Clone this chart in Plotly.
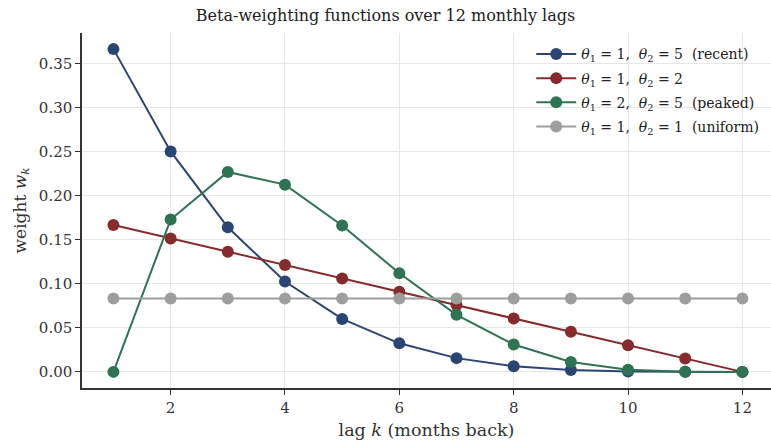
import plotly.graph_objects as go

lags = [1, 2, 3, 4, 5, 6, 7, 8, 9, 10, 11, 12]
w_recent = [0.3663, 0.2502, 0.1641, 0.1025, 0.0601, 0.0324, 0.0156, 0.0064, 0.0020, 0.0004, 0.00003, 0.0]
w_linear = [0.1667, 0.1515, 0.1364, 0.1212, 0.1061, 0.0909, 0.0758, 0.0606, 0.0455, 0.0303, 0.0152, 0.0]
w_peaked = [0.0, 0.1729, 0.2269, 0.2125, 0.1661, 0.1120, 0.0648, 0.0310, 0.0112, 0.0025, 0.0002, 0.0]
w_uniform = [0.0833] * 12

series_names = [
    "<i>θ</i><sub>1</sub> = 1,  <i>θ</i><sub>2</sub> = 5  (recent)",
    "<i>θ</i><sub>1</sub> = 1,  <i>θ</i><sub>2</sub> = 2",
    "<i>θ</i><sub>1</sub> = 2,  <i>θ</i><sub>2</sub> = 5  (peaked)",
    "<i>θ</i><sub>1</sub> = 1,  <i>θ</i><sub>2</sub> = 1  (uniform)",
]
colors = ["#2b4572", "#862b2b", "#2e7353", "#9e9e9e"]
y_ticks = [0.0, 0.05, 0.10, 0.15, 0.20, 0.25, 0.30, 0.35]
x_ticks = [2, 4, 6, 8, 10, 12]

fig = go.Figure()
for i, (name, vals, c) in enumerate(zip(series_names, [w_recent, w_linear, w_peaked, w_uniform], colors)):
    fig.add_trace(go.Scatter(
        x=lags, y=vals, name=name, mode="lines+markers",
        legendgroup=f"g{i}",
        line=dict(color=c, width=2),
        marker=dict(color=c, size=12),
    ))

font = "DejaVu Serif"
fig.update_layout(
    width=771, height=441,
    margin=dict(l=82, r=0, t=33, b=53, autoexpand=False),
    paper_bgcolor="white", plot_bgcolor="white",
    font=dict(family=font, size=15, color="#333333"),
    title=dict(text="Beta-weighting functions over 12 monthly lags",
               x=0.5, xanchor="center", xref="container",
               y=0.966, yref="container", yanchor="middle",
               font=dict(family=font, size=16, color="#222222")),
    showlegend=True,
    legend=dict(x=0.652, xanchor="left", y=0.985, yanchor="top",
                bgcolor="rgba(255,255,255,0)", borderwidth=0,
                font=dict(family=font, size=14, color="#222222"),
                tracegroupgap=3, itemwidth=40),
    xaxis=dict(range=[0.45, 12.5], tickvals=x_ticks, automargin=False,
               showgrid=True, gridcolor="#e6e6e6", gridwidth=1,
               zeroline=False, showline=True, linecolor="#333333", linewidth=1.5,
               ticks="outside", ticklen=5, tickcolor="#333333",
               tickfont=dict(family=font, size=15, color="#333333"),
               title=dict(text="lag <i>k</i> (months back)", standoff=8,
                          font=dict(family=font, size=17.5, color="#333333"))),
    yaxis=dict(range=[-0.0183, 0.3846], tickvals=y_ticks, tickformat=".2f", automargin=False,
               showgrid=True, gridcolor="#e6e6e6", gridwidth=1,
               zeroline=False, showline=True, linecolor="#333333", linewidth=1.5,
               ticks="outside", ticklen=5, tickcolor="#333333",
               tickfont=dict(family=font, size=15, color="#333333"),
               title=dict(text="weight <i>w<sub>k</sub></i>", standoff=8,
                          font=dict(family=font, size=17, color="#333333"))),
)

fig.write_html("out.html", config={"displayModeBar": False},
               post_script="document.body.style.margin='0';")
